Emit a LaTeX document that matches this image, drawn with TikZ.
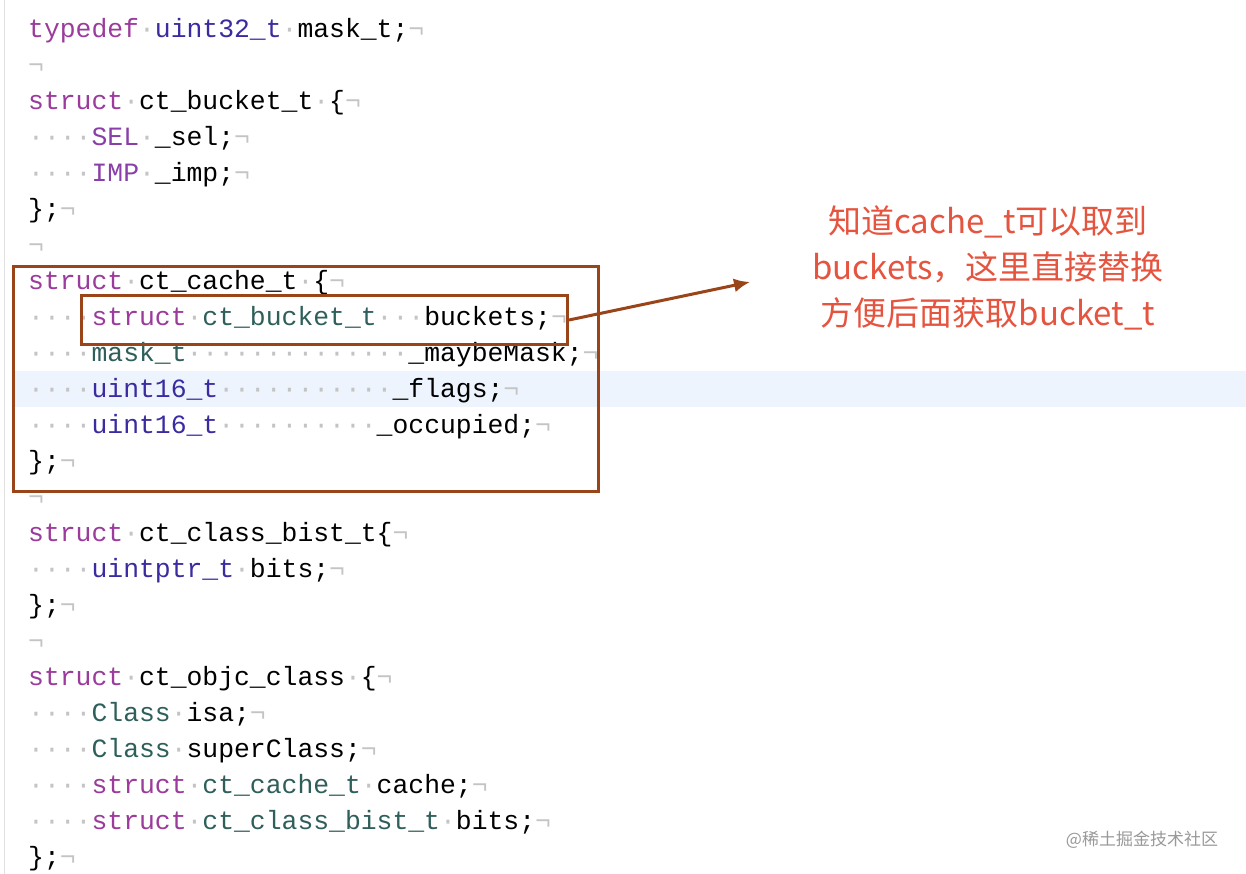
\documentclass[tikz,border=0pt]{standalone}
\usepackage{fontspec}
\usetikzlibrary{arrows.meta}
\setmonofont{Liberation Mono}
\newfontfamily\cjk{Noto Sans CJK SC}
\definecolor{kw}{HTML}{9B3B9B}
\definecolor{sp}{HTML}{8A3FA8}
\definecolor{ty}{HTML}{3A2BA0}
\definecolor{tn}{HTML}{2F5F5A}
\definecolor{dc}{HTML}{C4C4C4}
\definecolor{bx}{HTML}{9A4419}
\definecolor{rd}{HTML}{E5543F}
\definecolor{hl}{HTML}{EEF4FD}
\newcommand{\Cd}{{\color{dc}·}}
\newcommand{\Cn}{{\color{dc}¬}}
\newcommand{\Ck}[1]{{\color{kw}#1}}
\newcommand{\Cs}[1]{{\color{sp}#1}}
\newcommand{\Ct}[1]{{\color{ty}#1}}
\newcommand{\Cy}[1]{{\color{tn}#1}}
\begin{document}
\begin{tikzpicture}[x=1pt,y=-1pt,
  code/.style={anchor=base west,inner sep=0pt,font=\ttfamily\fontsize{26.4}{26.4}\selectfont},
  frame/.style={draw=bx,line width=3pt}]
\useasboundingbox[fill=white] (0,0) rectangle (1246,874);
\fill[hl] (15,371) rectangle (1246,407);
\draw[black!12,line width=1pt] (4,0) -- (4,874);
\foreach \i/\t in {
1/{\Ck{typedef}\Cd\Ct{uint32\_t}\Cd mask\_t;\Cn},
2/{\Cn},
3/{\Ck{struct}\Cd ct\_bucket\_t\Cd\{\Cn},
4/{\Cd\Cd\Cd\Cd\Cs{SEL}\Cd\_sel;\Cn},
5/{\Cd\Cd\Cd\Cd\Cs{IMP}\Cd\_imp;\Cn},
6/{\};\Cn},
7/{\Cn},
8/{\Ck{struct}\Cd ct\_cache\_t\Cd\{\Cn},
9/{\Cd\Cd\Cd\Cd\Ck{struct}\Cd\Cy{ct\_bucket\_t}\Cd\Cd\Cd buckets;\Cn},
10/{\Cd\Cd\Cd\Cd\Cy{mask\_t}\Cd\Cd\Cd\Cd\Cd\Cd\Cd\Cd\Cd\Cd\Cd\Cd\Cd\Cd\_maybeMask;\Cn},
11/{\Cd\Cd\Cd\Cd\Ct{uint16\_t}\Cd\Cd\Cd\Cd\Cd\Cd\Cd\Cd\Cd\Cd\Cd\_flags;\Cn},
12/{\Cd\Cd\Cd\Cd\Ct{uint16\_t}\Cd\Cd\Cd\Cd\Cd\Cd\Cd\Cd\Cd\Cd\_occupied;\Cn},
13/{\};\Cn},
14/{\Cn},
15/{\Ck{struct}\Cd ct\_class\_bist\_t\{\Cn},
16/{\Cd\Cd\Cd\Cd\Ct{uintptr\_t}\Cd bits;\Cn},
17/{\};\Cn},
18/{\Cn},
19/{\Ck{struct}\Cd ct\_objc\_class\Cd\{\Cn},
20/{\Cd\Cd\Cd\Cd\Cy{Class}\Cd isa;\Cn},
21/{\Cd\Cd\Cd\Cd\Cy{Class}\Cd superClass;\Cn},
22/{\Cd\Cd\Cd\Cd\Ck{struct}\Cd\Cy{ct\_cache\_t}\Cd cache;\Cn},
23/{\Cd\Cd\Cd\Cd\Ck{struct}\Cd\Cy{ct\_class\_bist\_t}\Cd bits;\Cn},
24/{\};\Cn}}
{\node[code] (l\i) at (28,{38+(\i-1)*35.96}) {\t};}
\node[frame,minimum width=585,minimum height=225,anchor=north west,inner sep=0pt] (outer) at (12,265) {};
\node[frame,minimum width=486,minimum height=49,anchor=north west,inner sep=0pt] (inner) at (80,294) {};
\coordinate (tip) at (750,282);
\draw[bx,line width=3pt,-{Latex[length=16pt,width=14pt]}] (inner.east) -- (tip);
\node[align=center,text=rd,font=\cjk\fontsize{33}{46}\selectfont] (note) at (988,268) {知道cache\_t可以取到\\buckets，这里直接替换\\方便后面获取bucket\_t};
\node[text=black!40,font=\cjk\fontsize{17}{17}\selectfont] (wm) at (1142,840) {@稀土掘金技术社区};
\end{tikzpicture}
\end{document}
